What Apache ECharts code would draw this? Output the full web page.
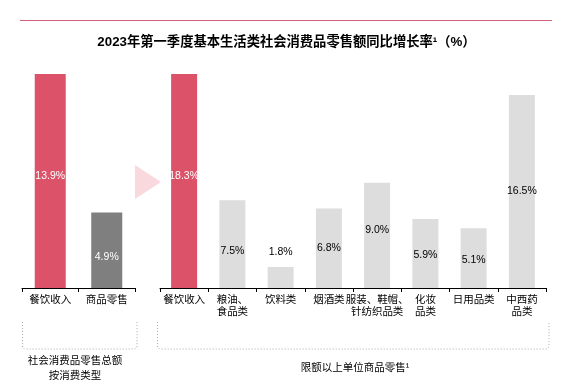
<!DOCTYPE html>
<html>
<head>
<meta charset="utf-8">
<script src="https://cdn.jsdelivr.net/npm/echarts@6/dist/echarts.min.js"></script>
<style>html,body{margin:0;padding:0;background:#fff;}#c{width:573px;height:391px;}</style>
</head>
<body>
<div id="c"></div>
<script>
// ---- data ----
var titleText = '2023年第一季度基本生活类社会消费品零售额同比增长率¹（%）';
var leftCategories = ['餐饮收入', '商品零售'];
var leftValues = [13.9, 4.9];
var rightCategories = ['餐饮收入', '粮油、\n食品类', '饮料类', '烟酒类', '服装、鞋帽、\n针纺织品类', '化妆\n品类', '日用品类', '中西药\n品类'];
var rightValues = [18.3, 7.5, 1.8, 6.8, 9.0, 5.9, 5.1, 16.5];
var leftGroupLabel = '社会消费品零售总额\n按消费类型';
var rightGroupLabel = '限额以上单位商品零售¹';

// ---- styles ----
var RED = '#DC5369', DARK = '#7F7F7F', LIGHT = '#DDDDDD';
var FONT = '"Liberation Sans", Arial, "Noto Sans CJK SC", sans-serif';
var leftColors = [RED, DARK];
var leftLabelColors = ['#fff', '#fff'];
var leftLabelOffsets = [-5, 7];
var rightColors = [RED, LIGHT, LIGHT, LIGHT, LIGHT, LIGHT, LIGHT, LIGHT];
var rightLabelColors = ['#fff', '#000', '#000', '#000', '#000', '#000', '#000', '#000'];
var rightLabelOffsets = [-5, 7, 0, 0, -5, 2, 2, 0];
var rightLabelPos = ['inside', 'inside', 'top', 'inside', 'inside', 'inside', 'inside', 'inside'];

function buildData(values, colors, lcolors, offs, pos) {
  return values.map(function (v, i) {
    return {
      value: v,
      itemStyle: { color: colors[i] },
      label: {
        position: pos ? pos[i] : 'inside',
        distance: 10,
        offset: [0, offs[i]],
        color: lcolors[i]
      }
    };
  });
}

var axisCommon = {
  type: 'category',
  axisLine: { lineStyle: { color: '#000', width: 1 } },
  axisTick: { show: true, length: 4, lineStyle: { color: '#000' } },
  axisLabel: { interval: 0, color: '#000', fontSize: 10.5, fontFamily: FONT, margin: 6, lineHeight: 12, hideOverlap: false }
};

var dotted = { fill: 'none', stroke: '#AAAAAA', lineWidth: 1, lineDash: [1, 2] };

var chart = echarts.init(document.getElementById('c'), null, { renderer: 'canvas' });
chart.setOption({
  animation: false,
  backgroundColor: '#fff',
  title: {
    text: titleText,
    left: 'center',
    top: 31,
    textStyle: { fontSize: 13.3, fontWeight: 'bold', color: '#000', fontFamily: FONT }
  },
  grid: [
    { left: 22, right: 573 - 135, top: 74, bottom: 103 },
    { left: 160, right: 573 - 546, top: 74, bottom: 103 }
  ],
  xAxis: [
    Object.assign({}, axisCommon, { gridIndex: 0, data: leftCategories }),
    Object.assign({}, axisCommon, { gridIndex: 1, data: rightCategories })
  ],
  yAxis: [
    { type: 'value', gridIndex: 0, show: false, min: 0, max: function (v) { return v.max; } },
    { type: 'value', gridIndex: 1, show: false, min: 0, max: function (v) { return v.max; } }
  ],
  series: [
    {
      type: 'bar', xAxisIndex: 0, yAxisIndex: 0, barWidth: 31,
      label: { show: true, fontSize: 10.5, fontFamily: FONT, formatter: function (p) { return p.value.toFixed(1) + '%'; } },
      data: buildData(leftValues, leftColors, leftLabelColors, leftLabelOffsets)
    },
    {
      type: 'bar', xAxisIndex: 1, yAxisIndex: 1, barWidth: 26,
      label: { show: true, fontSize: 10.5, fontFamily: FONT, formatter: function (p) { return p.value.toFixed(1) + '%'; } },
      data: buildData(rightValues, rightColors, rightLabelColors, rightLabelOffsets, rightLabelPos)
    }
  ],
  graphic: [
    { type: 'line', shape: { x1: 20, y1: 20.5, x2: 552, y2: 20.5 }, style: { stroke: '#D0637A', lineWidth: 1 } },
    { type: 'polygon', shape: { points: [[135, 165], [161, 182], [135, 199]] }, style: { fill: '#F9D9DE' } },
    { type: 'polyline', shape: { points: [[22.5, 322], [22.5, 347], [24.5, 349], [135, 349], [137, 347], [137, 322]] }, style: dotted },
    { type: 'polyline', shape: { points: [[157.5, 322], [157.5, 347], [159.5, 349], [547, 349], [549, 347], [549, 322]] }, style: dotted },
    { type: 'text', x: 75, y: 369, style: { text: leftGroupLabel, fill: '#000', font: '10.5px ' + FONT, textAlign: 'center', textVerticalAlign: 'middle', lineHeight: 15 } },
    { type: 'text', x: 355, y: 368, style: { text: rightGroupLabel, fill: '#000', font: '10.5px ' + FONT, textAlign: 'center', textVerticalAlign: 'middle' } }
  ]
});
</script>
</body>
</html>
